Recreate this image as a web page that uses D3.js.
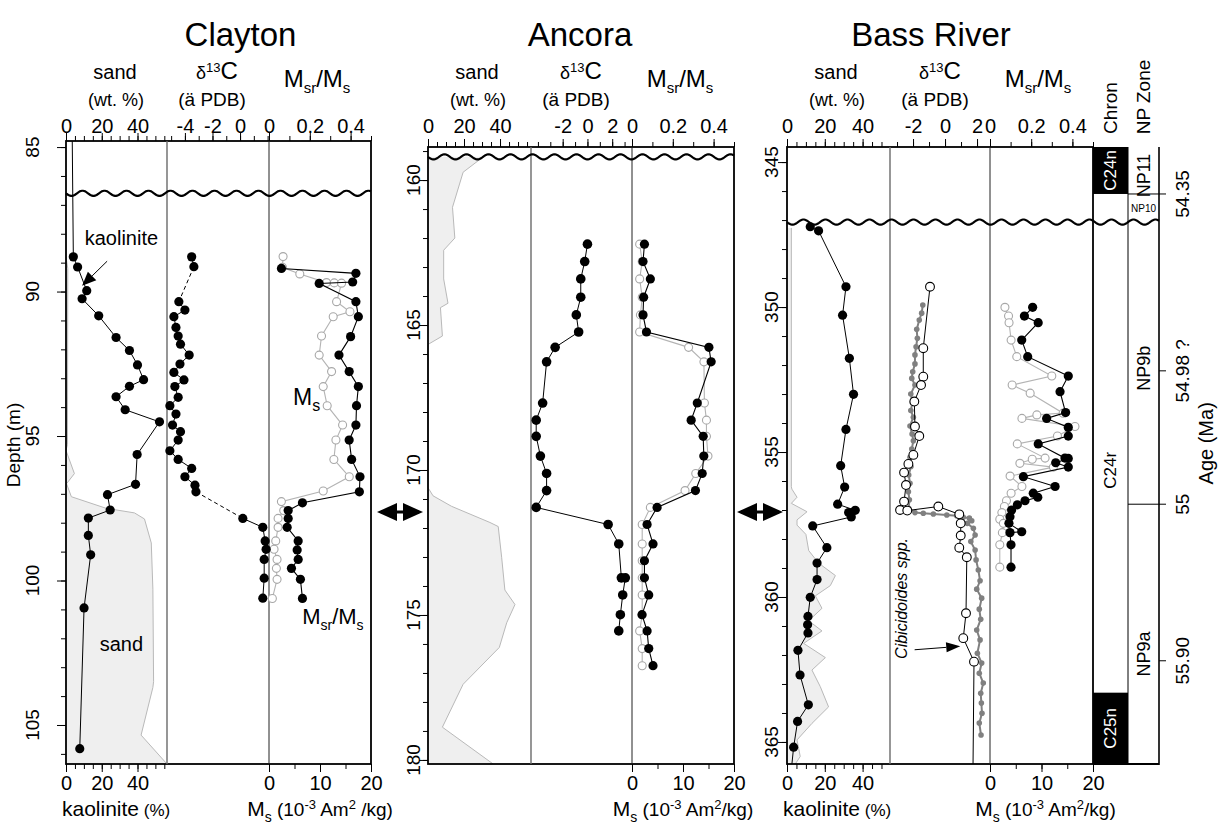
<!DOCTYPE html>
<html>
<head>
<meta charset="utf-8">
<title>Clayton, Ancora, Bass River</title>
<script src="https://cdn.jsdelivr.net/npm/d3@7/dist/d3.min.js"></script>
<style>
  body { margin: 0; background: #fff; }
  svg { display: block; font-family: "Liberation Sans", Arial, Helvetica, sans-serif; }
</style>
</head>
<body>
<svg id="chart" width="1220" height="827"></svg>
<script>
// ---------------- Clayton ----------------
const claytonSandDepth = [88.8, 89.2, 95.3, 95.5, 96.3, 96.65, 97.1, 97.5, 97.66, 97.87, 98.7, 100.3, 103.5, 103.7, 105.35, 106.35];
const claytonSand      = [0, 1.0, 0.8, 0, 4.7, 0.3, 3.0, 22.4, 38.3, 43.9, 47.7, 48.6, 49.0, 48.6, 42.0, 56.5];
// first point is the trace running up to the top of the log (no sample dot)
const claytonKaolDepth = [84.79, 88.80, 89.15, 89.97, 90.25, 90.84, 91.59, 92.04, 92.54, 93.05, 93.28, 93.64, 94.09, 94.51, 95.64, 96.67, 97.03, 97.56, 97.84, 98.44, 99.11, 100.95, 105.82];
const claytonKaol      = [3.5, 4.1, 6.5, 11.6, 9.0, 18.3, 28.0, 35.5, 40.0, 43.4, 35.5, 28.0, 33.1, 52.3, 39.8, 38.9, 23.2, 24.7, 12.5, 12.5, 13.8, 10.1, 7.7];
const claytonD13CDepth = [88.80, 89.14, 90.35, 90.64, 90.87, 91.24, 91.54, 91.82, 92.20, 92.51, 92.80, 93.06, 93.29, 93.66, 93.95, 94.24, 94.62, 94.85, 95.14, 95.51, 95.81, 96.12, 96.41, 96.70, 96.93, 97.85, 98.16, 98.63, 98.92, 99.27, 99.92, 100.61];
const claytonD13C      = [-3.51, -3.35, -4.44, -4.0, -4.8, -4.65, -4.49, -4.32, -3.69, -4.36, -4.8, -4.07, -4.73, -4.49, -5.09, -4.65, -4.9, -4.32, -4.49, -5.09, -4.49, -3.51, -4.0, -3.27, -3.2, 0.2, 1.65, 1.82, 1.89, 1.75, 1.75, 1.65];
const claytonD13CDashed = [1, 24]; // segments starting at these samples are dashed
const claytonMsrDepth = [89.20, 89.37, 89.67, 89.72, 90.35, 90.87, 91.56, 92.20, 92.77, 93.29, 93.95, 94.62, 95.14, 95.81, 96.41, 96.93, 97.31, 97.58, 97.85, 98.16, 98.63, 98.94, 99.27, 99.58, 99.96, 100.62];
const claytonMsr      = [0.061, 0.426, 0.410, 0.246, 0.426, 0.438, 0.400, 0.343, 0.393, 0.438, 0.429, 0.426, 0.393, 0.405, 0.446, 0.443, 0.164, 0.094, 0.094, 0.089, 0.143, 0.138, 0.143, 0.110, 0.154, 0.164];
const claytonMsDepth = [88.79, 89.16, 89.39, 89.69, 89.70, 89.71, 90.35, 90.70, 90.87, 91.54, 92.20, 92.77, 93.29, 93.95, 94.62, 95.14, 95.81, 96.41, 96.90, 97.27, 97.58, 97.85, 98.16, 98.63, 98.92, 99.27, 99.58, 99.96, 100.62];
const claytonMs      = [2.76, 2.63, 6.04, 11.28, 12.79, 14.23, 13.25, 15.87, 12.59, 10.30, 9.84, 12.27, 10.63, 11.41, 14.43, 13.12, 12.72, 15.74, 10.63, 2.43, 2.89, 1.78, 1.78, 1.32, 0.99, 1.58, 1.45, 1.58, 0.66];
const claytonHiatus = 86.6;

// ---------------- Ancora ----------------
const ancoraSandDepth = [159.2, 159.73, 160.94, 162.0, 162.42, 163.41, 164.25, 164.40, 165.38, 165.67, 170.61, 170.89, 171.25, 171.81, 171.95, 173.01, 174.14, 174.64, 175.27, 176.12, 177.39, 178.87, 180.14];
const ancoraSand      = [30.7, 19.5, 13.6, 14.9, 8.7, 8.7, 11.1, 6.9, 8.0, 0, 0, 2.8, 13.0, 34.4, 39.0, 40.9, 42.7, 48.3, 43.7, 39.6, 19.5, 8.0, 36.2];
const ancoraD13CDepth = [162.21, 162.81, 163.41, 164.04, 164.65, 165.24, 165.77, 166.27, 167.69, 168.28, 168.84, 169.52, 170.12, 170.71, 171.29, 171.88, 172.55, 173.72, 173.72, 174.31, 174.99, 175.55];
const ancoraD13C      = [0, -0.22, -0.54, -0.54, -0.9, -0.71, -2.61, -3.3, -3.62, -4.14, -4.14, -3.8, -3.3, -3.3, -4.14, 1.67, 2.53, 2.74, 3.06, 2.85, 2.66, 2.53];
const ancoraMagDepth = [162.21, 162.81, 163.41, 164.04, 164.65, 165.24, 165.77, 166.27, 167.69, 168.28, 168.84, 169.52, 170.12, 170.71, 171.29, 171.88, 172.55, 173.13, 173.72, 174.31, 174.99, 175.55, 176.16, 176.75];
const ancoraMsr = [0.061, 0.054, 0.090, 0.057, 0.054, 0.071, 0.377, 0.388, 0.320, 0.290, 0.349, 0.352, 0.344, 0.311, 0.123, 0.074, 0.103, 0.061, 0.061, 0.082, 0.049, 0.074, 0.082, 0.103];
const ancoraMs  = [1.5, 2.0, 1.5, 2.0, 1.65, 1.5, 11.1, 14.1, 14.2, 14.6, 14.6, 14.9, 12.5, 10.4, 3.6, 2.0, 2.0, 2.0, 2.0, 2.0, 2.0, 1.5, 2.0, 2.0];
const ancoraHiatus = 159.2;
const cieDepthAncora = 171.45;

// ---------------- Bass River ----------------
const bassSandDepth = [347.27, 356.2, 356.28, 356.56, 356.77, 357.06, 357.34, 357.52, 357.84, 358.40, 358.83, 359.26, 359.61, 359.96, 360.39, 360.82, 361.17, 361.60, 362.09, 362.52, 363.09, 363.79, 364.36, 364.93, 365.50, 365.76];
const bassSand      = [2.3, 2.3, 2.6, 5.3, 2.3, 10.6, 5.3, 5.3, 10.0, 11.5, 16.7, 25.6, 22.9, 15.0, 18.5, 11.5, 18.5, 8.8, 20.3, 13.2, 17.6, 22.0, 13.2, 5.3, 7.0, 4.4];
// last point is the trace running down to the base of the log (no sample dot)
const bassKaolDepth = [347.23, 347.37, 349.30, 350.28, 351.77, 353.01, 354.22, 355.47, 356.21, 356.80, 357.01, 357.09, 357.24, 357.55, 358.30, 358.83, 359.40, 360.01, 360.67, 360.96, 361.24, 361.84, 362.69, 363.72, 364.29, 365.18, 365.76];
const bassKaol      = [12.3, 16.7, 31.2, 29.4, 33.0, 35.2, 31.2, 28.4, 30.5, 26.8, 36.1, 32.6, 34.0, 13.6, 21.1, 15.9, 15.9, 12.3, 11.1, 10.9, 11.1, 5.8, 6.9, 11.3, 5.6, 3.5, 2.6];
// Cibicidoides spp. (open circles); last point is the trace to the base
const bassCibDepth = [349.30, 351.42, 352.40, 352.69, 353.26, 354.12, 354.45, 355.10, 355.41, 355.71, 356.14, 356.71, 357.00, 357.02, 356.88, 357.15, 357.46, 357.88, 358.30, 358.63, 360.56, 361.42, 362.23, 365.76];
const bassCib      = [-0.94, -1.36, -1.36, -1.5, -1.92, -1.88, -1.61, -1.98, -2.29, -2.56, -2.44, -2.56, -2.81, -2.36, -0.42, 0.89, 0.98, 0.98, 0.89, 1.36, 1.31, 1.14, 1.81, 1.75];
// bulk carbonate (small grey dots)
const bassBulkDepth = [349.93, 350.21, 350.45, 350.77, 351.08, 351.37, 351.65, 351.96, 352.23, 352.46, 352.69, 353.00, 353.30, 353.57, 353.80, 354.10, 354.38, 354.61, 354.90, 355.18, 355.50, 355.79, 356.08, 356.37, 356.65, 356.94, 357.09, 357.11, 357.14, 357.17, 357.20, 357.25, 357.28, 357.37, 357.46, 357.63, 357.86, 358.09, 358.38, 358.72, 359.07, 359.44, 359.73, 360.04, 360.42, 360.77, 361.14, 361.48, 361.94, 362.28, 362.63, 362.97, 363.32, 363.66, 364.01, 364.35, 364.76];
const bassBulk      = [-1.39, -1.46, -1.61, -1.77, -1.73, -1.81, -1.88, -1.88, -2.02, -2.08, -1.88, -2.14, -2.04, -2.14, -1.98, -2.19, -2.06, -1.98, -2.08, -2.19, -2.13, -2.27, -2.19, -2.29, -2.23, -2.27, -1.88, -1.36, -0.73, 0.11, 0.73, 1.14, 1.52, 1.67, 1.39, 1.77, 1.88, 1.61, 1.88, 1.94, 2.08, 2.19, 1.98, 2.29, 2.14, 2.23, 1.98, 2.19, 2.02, 2.29, 2.14, 2.39, 2.23, 2.27, 2.31, 2.14, 2.25];
const bassMsrDepth = [350.01, 350.31, 350.54, 351.14, 351.71, 352.38, 352.92, 353.64, 353.84, 354.15, 354.45, 354.72, 355.21, 355.22, 355.37, 355.52, 355.85, 356.19, 356.42, 356.56, 356.68, 356.82, 357.00, 357.23, 357.46, 357.75, 357.78, 358.20, 358.97];
const bassMsr      = [0.207, 0.167, 0.234, 0.154, 0.183, 0.380, 0.340, 0.367, 0.275, 0.380, 0.380, 0.234, 0.364, 0.380, 0.319, 0.380, 0.162, 0.316, 0.210, 0.232, 0.170, 0.133, 0.105, 0.097, 0.092, 0.154, 0.097, 0.102, 0.102];
const bassMsDepth = [350.01, 350.31, 350.54, 351.14, 351.71, 352.38, 352.69, 352.97, 353.66, 353.72, 353.84, 354.12, 354.45, 354.72, 355.21, 355.25, 355.39, 355.52, 355.83, 356.19, 356.42, 356.68, 356.88, 357.09, 357.32, 357.46, 357.78, 358.20, 358.97];
const bassMs      = [2.9, 3.6, 3.7, 4.1, 5.2, 12.0, 4.3, 7.8, 14.2, 9.1, 6.2, 16.5, 13.1, 5.3, 10.7, 8.2, 5.8, 12.3, 3.9, 6.2, 4.1, 3.2, 2.8, 2.3, 1.9, 2.6, 2.4, 1.9, 1.9];
const bassHiatus = 347.07;

// chrons, nannofossil zones and ages against Bass River depth
const chronNames = ['C24n', 'C24r', 'C25n'];
const chronTop   = [344.48, 346.1, 363.3];
const chronBase  = [346.1, 363.3, 365.76];
const npNames = ['NP11', 'NP10', 'NP9b', 'NP9a'];
const npTop   = [344.48, 346.1, 347.07, 356.8];
const npBase  = [346.1, 347.07, 356.8, 365.76];
const ageLabels = ['54.35', '54.98 ?', '55', '55.90'];
const ageDepth  = [346.1, 352.2, 356.8, 362.2];
const ageIsBoundary = [true, false, true, false];

// ---------------- drawing ----------------
const FONT = '"Liberation Sans", Arial, Helvetica, sans-serif';
const svg = d3.select('#chart');
const tickLabelBase = 133;   // baseline of the top tick labels

function rich(g, x, y, parts, anchor) {
    let t = g.append('text').attr('x', x).attr('y', y)
        .attr('text-anchor', anchor || 'middle').attr('fill', '#000');
    parts.forEach(p => {
        let s = t.append('tspan').attr('font-size', p[1]).attr('dy', p[2] || 0).text(p[0]);
        if (p[3]) s.attr('font-style', p[3]);
    });
    return t;
}

function vtext(g, x, y, txt, size) {
    return g.append('text')
        .attr('transform', `translate(${x},${y}) rotate(-90)`)
        .attr('text-anchor', 'middle').attr('dy', '0.35em')
        .attr('font-size', size).text(txt);
}

function pairs(depth, vals) {
    return depth.map((d, i) => [d, vals[i]]);
}

function traceLine(g, pts, x, y, color, width, dash) {
    g.append('path').datum(pts)
        .attr('d', d3.line().x(p => x(p[1])).y(p => y(p[0])))
        .attr('fill', 'none').attr('stroke', color).attr('stroke-width', width)
        .attr('stroke-dasharray', dash || null);
}

function dots(g, pts, x, y, r, fill, stroke, sw) {
    g.append('g').selectAll('circle').data(pts).enter()
        .append('circle')
        .attr('cx', p => x(p[1])).attr('cy', p => y(p[0])).attr('r', r)
        .attr('fill', fill).attr('stroke', stroke || 'none').attr('stroke-width', sw || 0);
}

function arrow(g, x1, y1, x2, y2, len, half) {
    let a = Math.atan2(y2 - y1, x2 - x1);
    let bx = x2 - len * Math.cos(a), by = y2 - len * Math.sin(a);
    g.append('line').attr('x1', x1).attr('y1', y1).attr('x2', bx).attr('y2', by)
        .attr('stroke', '#000').attr('stroke-width', 1);
    g.append('polygon')
        .attr('points', [[x2, y2], [bx + half * Math.sin(a), by - half * Math.cos(a)], [bx - half * Math.sin(a), by + half * Math.cos(a)]].join(' '))
        .attr('fill', '#000');
}

function wavy(g, x0, x1, yy) {
    let pts = d3.range(x0, x1 + 0.5, 1).map(x => [x, yy + 2.6 * Math.sin((x - x0) / 22 * 2 * Math.PI)]);
    g.append('path').attr('d', d3.line()(pts))
        .attr('fill', 'none').attr('stroke', '#000').attr('stroke-width', 2.2);
}

function styleAxis(a) {
    a.select('.domain').remove();
    a.attr('font-family', FONT);
    a.selectAll('line').attr('stroke', '#000');
    a.selectAll('text').attr('font-size', 20).attr('fill', '#000');
}

function axisPair(g, axisFn, scale, minor, major, at, horizontal, pad) {
    let tr = horizontal ? `translate(0,${at})` : `translate(${at},0)`;
    g.append('g').attr('transform', tr)
        .call(axisFn(scale).tickValues(minor).tickSize(5).tickFormat(''))
        .call(styleAxis);
    g.append('g').attr('transform', tr)
        .call(axisFn(scale).tickValues(major).tickSize(8).tickPadding(pad).tickFormat(d => String(d)))
        .call(styleAxis);
}

function drawPanel(cfg) {
    let g = svg.append('g');
    let [c0, c1, c2, c3] = cfg.cols;
    let top = cfg.top, bottom = cfg.bottom;
    let y = d3.scaleLinear().domain(cfg.depth).range([top, bottom]);
    let xSand = d3.scaleLinear().domain([0, cfg.sandMax]).range([c0, c1]);
    let xC = d3.scaleLinear().domain(cfg.d13c).range([c1, c2]);
    let xR = d3.scaleLinear().domain([0, 0.5]).range([c2, c3]);
    let xMs = d3.scaleLinear().domain([0, 20]).range([c2, c3]);

    // sand (grey area)
    let sd = pairs(cfg.sandDepth, cfg.sand);
    g.append('path').datum(sd)
        .attr('d', d3.area().y(p => y(p[0])).x0(xSand(0)).x1(p => xSand(p[1])))
        .attr('fill', '#efefef');
    traceLine(g, sd, xSand, y, '#b9b9b9', 1);

    // frame and column dividers
    g.append('rect').attr('x', c0).attr('y', top).attr('width', c3 - c0).attr('height', bottom - top)
        .attr('fill', 'none').attr('stroke', '#000').attr('stroke-width', 1.8);
    g.append('line').attr('x1', c1).attr('x2', c1).attr('y1', top).attr('y2', bottom)
        .attr('stroke', '#6a6a6a').attr('stroke-width', 1.4);
    g.append('line').attr('x1', c2).attr('x2', c2).attr('y1', top).attr('y2', bottom)
        .attr('stroke', '#222').attr('stroke-width', 1);

    // axes
    let topPad = top - 8 - tickLabelBase;
    axisPair(g, d3.axisTop, xSand, d3.range(0, cfg.sandMax, 5), [0, 20, 40], top, true, topPad);
    axisPair(g, d3.axisTop, xC, d3.range(Math.ceil(cfg.d13c[0]), Math.floor(cfg.d13c[1]) + 1, 1), cfg.d13cLabels, top, true, topPad);
    axisPair(g, d3.axisTop, xR, [0, 0.1, 0.2, 0.3, 0.4, 0.5], [0, 0.2, 0.4], top, true, topPad);
    axisPair(g, d3.axisBottom, xMs, [0, 5, 10, 15, 20], [0, 10, 20], bottom, true, 4);
    if (cfg.kaolDepth) axisPair(g, d3.axisBottom, xSand, d3.range(0, cfg.sandMax, 5), [0, 20, 40], bottom, true, 4);

    // depth axis
    g.append('g').attr('transform', `translate(${c0},0)`)
        .call(d3.axisLeft(y).tickValues(d3.range(Math.ceil(cfg.depth[0]), cfg.depth[1], 1)).tickSize(5).tickFormat(''))
        .call(styleAxis);
    g.append('g').attr('transform', `translate(${c0},0)`)
        .call(d3.axisLeft(y).tickValues(cfg.depthLabels).tickSize(9).tickFormat(''))
        .call(styleAxis);
    cfg.depthLabels.forEach(d => vtext(g, c0 - cfg.labelOff, y(d), String(d), 19));

    // headers
    rich(g, (c0 + c3) / 2 + cfg.titleShift, 46, [[cfg.title, 33]]);
    rich(g, c0 + 49, 79, [['sand', 20]]);
    rich(g, c0 + 50, 106, [['(wt. %)', 18]]);
    rich(g, c1 + 50, 79, [['δ', 18], ['13', 13, -7], ['C', 24, 7]]);
    rich(g, c1 + 45, 106, [['(ä PDB)', 19]]);
    rich(g, c2 + 48, 87, [['M', 24], ['sr', 15, 6], ['/M', 24, -6], ['s', 15, 6]]);
    rich(g, (c2 + c3) / 2 + cfg.msShift, 816, [['M', 21], ['s', 14, 6], [' (10', 19, -6], ['-3', 13, -7], [' Am', 19, 7], ['2', 13, -7], [cfg.kgText, 19, 7]]);
    if (cfg.kaolDepth) rich(g, c0 - 4, 816, [['kaolinite', 21], [' (%)', 17]], 'start');

    // kaolinite
    if (cfg.kaolDepth) {
        let kd = pairs(cfg.kaolDepth, cfg.kaol);
        traceLine(g, kd, xSand, y, '#000', 1);
        dots(g, kd.filter((p, i) => cfg.kaolNoDot.indexOf(i) < 0), xSand, y, 4.6, '#000');
    }

    // magnetics: Ms (open grey) then Msr/Ms (black)
    let ms = pairs(cfg.msDepth, cfg.ms);
    traceLine(g, ms, xMs, y, '#b4b4b4', 1.1);
    dots(g, ms, xMs, y, 4, '#fff', '#a8a8a8', 1.1);
    let mr = pairs(cfg.msrDepth, cfg.msr);
    traceLine(g, mr, xR, y, '#000', 1.1);
    dots(g, mr, xR, y, 4.6, '#000');

    return {g, y, xSand, xC, xR, xMs};
}

// ---- Clayton
let cl = drawPanel({
    title: 'Clayton', titleShift: 22, cols: [66, 167, 269, 371], top: 141, bottom: 764,
    depth: [84.79, 106.35], sandMax: 56.5, d13c: [-5.3, 2.1], d13cLabels: [-4, -2, 0],
    depthLabels: [85, 90, 95, 100, 105], labelOff: 34, msShift: 0, kgText: ' /kg)',
    sandDepth: claytonSandDepth, sand: claytonSand,
    kaolDepth: claytonKaolDepth, kaol: claytonKaol, kaolNoDot: [0],
    msDepth: claytonMsDepth, ms: claytonMs, msrDepth: claytonMsrDepth, msr: claytonMsr
});
{
    let c = pairs(claytonD13CDepth, claytonD13C);
    for (let i = 0; i < c.length - 1; i++) {
        let dashed = claytonD13CDashed.indexOf(i) >= 0;
        traceLine(cl.g, [c[i], c[i + 1]], cl.xC, cl.y, '#000', 1, dashed ? '4,3' : null);
    }
    dots(cl.g, c, cl.xC, cl.y, 4.6, '#000');
    wavy(cl.g, 66, 371, cl.y(claytonHiatus));
    rich(cl.g, cl.xSand(31), cl.y(88.4), [['kaolinite', 20]]);
    arrow(cl.g, cl.xSand(23), cl.y(88.95), cl.xSand(9), cl.y(89.8), 14, 6);
    rich(cl.g, cl.xSand(31), cl.y(102.45), [['sand', 20]]);
    rich(cl.g, cl.xMs(4.7), cl.y(93.93), [['M', 23], ['s', 16, 6]], 'start');
    rich(cl.g, cl.xMs(6.5), cl.y(101.5), [['M', 22], ['sr', 14, 6], ['/M', 22, -6], ['s', 14, 6]], 'start');
}

// ---- Ancora
let an = drawPanel({
    title: 'Ancora', titleShift: -1, cols: [428, 531, 632, 734], top: 147, bottom: 764,
    depth: [158.86, 180.14], sandMax: 57.2, d13c: [-4.56, 3.6], d13cLabels: [-2, 0, 2],
    depthLabels: [160, 165, 170, 175, 180], labelOff: 15, msShift: 0, kgText: '/kg)',
    sandDepth: ancoraSandDepth, sand: ancoraSand,
    msDepth: ancoraMagDepth, ms: ancoraMs, msrDepth: ancoraMagDepth, msr: ancoraMsr
});
{
    let c = pairs(ancoraD13CDepth, ancoraD13C);
    traceLine(an.g, c, an.xC, an.y, '#000', 1);
    dots(an.g, c, an.xC, an.y, 4.8, '#000');
    wavy(an.g, 428, 734, an.y(ancoraHiatus));
}

// ---- Bass River
let br = drawPanel({
    title: 'Bass River', titleShift: -9, cols: [787, 890, 990, 1093], top: 147, bottom: 764,
    depth: [344.48, 365.76], sandMax: 54.5, d13c: [-3.44, 2.81], d13cLabels: [-2, 0, 2],
    depthLabels: [345, 350, 355, 360, 365], labelOff: 16, msShift: 4, kgText: '/kg)',
    sandDepth: bassSandDepth, sand: bassSand,
    kaolDepth: bassKaolDepth, kaol: bassKaol, kaolNoDot: [bassKaolDepth.length - 1],
    msDepth: bassMsDepth, ms: bassMs, msrDepth: bassMsrDepth, msr: bassMsr
});
{
    let bulk = pairs(bassBulkDepth, bassBulk);
    traceLine(br.g, bulk, br.xC, br.y, '#808080', 2);
    dots(br.g, bulk, br.xC, br.y, 2.8, '#808080');
    let cib = pairs(bassCibDepth, bassCib);
    traceLine(br.g, cib, br.xC, br.y, '#000', 1);
    dots(br.g, cib.slice(0, -1), br.xC, br.y, 4.4, '#fff', '#000', 1.1);
    br.g.append('text')
        .attr('transform', `translate(${br.xC(-2.75)},${br.y(360.05)}) rotate(-90)`)
        .attr('text-anchor', 'middle').attr('dy', '0.35em')
        .attr('font-size', 16).attr('font-style', 'italic').text('Cibicidoides spp.');
    arrow(br.g, br.xC(-1.9), br.y(361.82), br.xC(0.95), br.y(361.7), 14, 5);

    // chron and nannofossil zone columns
    let cx0 = 1093, cx1 = 1128, nx1 = 1159;
    let g = br.g, y = br.y;
    chronNames.forEach((n, i) => {
        let black = n !== 'C24r';
        if (black) g.append('rect').attr('x', cx0).attr('y', y(chronTop[i])).attr('width', cx1 - cx0)
            .attr('height', y(chronBase[i]) - y(chronTop[i])).attr('fill', '#000');
        let mid = (y(chronTop[i]) + y(chronBase[i])) / 2;
        vtext(g, (cx0 + cx1) / 2, black ? mid : mid + 27, n, 17).attr('fill', black ? '#fff' : '#000');
    });
    g.append('line').attr('x1', cx1).attr('x2', cx1).attr('y1', 147).attr('y2', 764).attr('stroke', '#000').attr('stroke-width', 1);
    g.append('line').attr('x1', nx1).attr('x2', nx1).attr('y1', 147).attr('y2', 765).attr('stroke', '#000').attr('stroke-width', 1.6);
    g.append('line').attr('x1', cx0).attr('x2', nx1).attr('y1', 764).attr('y2', 764).attr('stroke', '#000').attr('stroke-width', 1.8);
    npNames.forEach((n, i) => {
        let mid = (y(npTop[i]) + y(npBase[i])) / 2;
        if (n === 'NP10') {
            g.append('text').attr('x', (cx1 + nx1) / 2).attr('y', mid + 4).attr('text-anchor', 'middle')
                .attr('font-size', 10).text(n);
        } else {
            vtext(g, (cx1 + nx1) / 2, n === 'NP9a' ? mid + 20 : mid + 5, n, 18);
        }
    });
    ageLabels.forEach((a, i) => {
        let yy = y(ageDepth[i]);
        g.append('line').attr('x1', ageIsBoundary[i] ? cx1 : nx1).attr('x2', nx1 + 7)
            .attr('y1', yy).attr('y2', yy).attr('stroke', '#000').attr('stroke-width', 1);
        vtext(g, nx1 + 23, yy, a, 19);
    });
    vtext(g, 1206, y(354.7), 'Age (Ma)', 20);
    vtext(g, (cx0 + cx1) / 2, 108, 'Chron', 19);
    vtext(g, (cx1 + nx1) / 2, 97, 'NP Zone', 19);
    wavy(g, 787, nx1, y(bassHiatus));
}

// depth title
vtext(svg, 13, 445, 'Depth (m)', 19);

// CIE correlation arrows between the logs
function doubleArrow(x0, x1, yy) {
    let mid = (x0 + x1) / 2;
    svg.append('line').attr('x1', x0 + 4).attr('x2', x1 - 4).attr('y1', yy).attr('y2', yy)
        .attr('stroke', '#000').attr('stroke-width', 3);
    svg.append('polygon').attr('points', [[x0, yy], [mid - 3, yy - 9], [mid - 3, yy + 9]].join(' ')).attr('fill', '#000');
    svg.append('polygon').attr('points', [[x1, yy], [mid + 3, yy - 9], [mid + 3, yy + 9]].join(' ')).attr('fill', '#000');
}
doubleArrow(377, 423, an.y(cieDepthAncora));
doubleArrow(737, 783, an.y(cieDepthAncora));
</script>
</body>
</html>
